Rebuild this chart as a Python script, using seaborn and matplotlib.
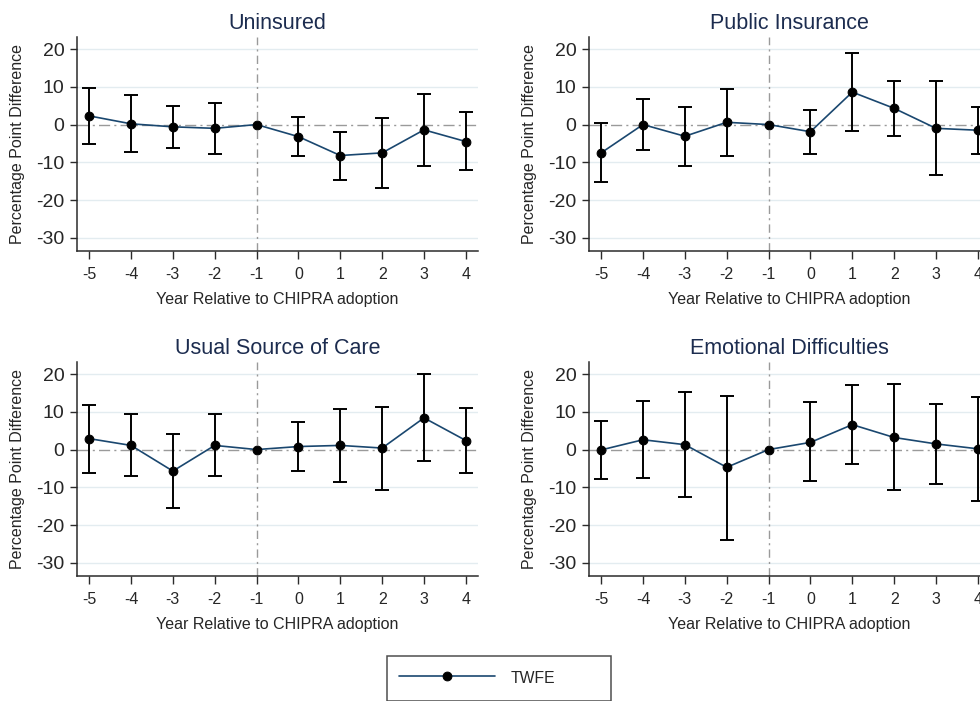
import numpy as np
import pandas as pd
import matplotlib
matplotlib.use("Agg")
import matplotlib.pyplot as plt
import seaborn as sns

# ---------------- data ----------------
years = [-5, -4, -3, -2, -1, 0, 1, 2, 3, 4]

uninsured_est = [2.3, 0.2, -0.6, -1.0, 0.0, -3.2, -8.2, -7.5, -1.4, -4.5]
uninsured_lo = [-5.2, -7.4, -6.2, -7.8, np.nan, -8.3, -14.8, -16.7, -10.9, -12.1]
uninsured_hi = [9.7, 7.8, 5.0, 5.8, np.nan, 2.1, -1.9, 1.8, 8.2, 3.2]

public_est = [-7.5, 0.0, -3.1, 0.6, 0.0, -1.9, 8.6, 4.3, -1.0, -1.5]
public_lo = [-15.3, -6.8, -10.9, -8.2, np.nan, -7.8, -1.8, -2.9, -13.4, -7.7]
public_hi = [0.3, 6.8, 4.7, 9.4, np.nan, 3.9, 19.0, 11.5, 11.5, 4.7]

usual_est = [2.9, 1.1, -5.7, 1.1, 0.0, 0.8, 1.1, 0.4, 8.4, 2.4]
usual_lo = [-6.2, -7.0, -15.5, -7.0, np.nan, -5.6, -8.7, -10.6, -2.9, -6.3]
usual_hi = [11.9, 9.3, 4.1, 9.3, np.nan, 7.3, 10.8, 11.4, 19.9, 10.9]

emotional_est = [-0.1, 2.6, 1.3, -4.7, 0.0, 1.9, 6.6, 3.2, 1.5, 0.2]
emotional_lo = [-7.9, -7.6, -12.5, -23.9, np.nan, -8.2, -3.9, -10.7, -9.0, -13.6]
emotional_hi = [7.7, 12.9, 15.3, 14.2, np.nan, 12.5, 17.2, 17.4, 12.1, 14.0]

titles = ["Uninsured", "Public Insurance", "Usual Source of Care", "Emotional Difficulties"]
yticks = [-30, -20, -10, 0, 10, 20]
xlabel = "Year Relative to CHIPRA adoption"
ylabel = "Percentage Point Difference"
series_label = "TWFE"

panels = [
    (uninsured_est, uninsured_lo, uninsured_hi),
    (public_est, public_lo, public_hi),
    (usual_est, usual_lo, usual_hi),
    (emotional_est, emotional_lo, emotional_hi),
]

# ---------------- style ----------------
sns.set_theme(style="white")
plt.rcParams["font.family"] = ["Liberation Sans", "DejaVu Sans"]

NAVY = "#1a476f"
TITLE_C = "#1c2c4f"
GRID_C = "#e3ecf0"
REF_C = "#9a9a9a"
SPINE_C = "#2b2b2b"

W, H = 980, 701
fig = plt.figure(figsize=(W / 100, H / 100), dpi=100)

# axes boxes in pixels: (left, top, right, bottom)
boxes = [
    (77, 37, 478, 251),
    (589, 37, 990, 251),
    (77, 362, 478, 576),
    (589, 362, 990, 576),
]

axes = []
for i, ((est, lo, hi), title, (l, t, r, b)) in enumerate(zip(panels, titles, boxes)):
    ax = fig.add_axes([l / W, 1 - b / H, (r - l) / W, (b - t) / H])
    axes.append(ax)
    df = pd.DataFrame({"year": years, "est": est, "lo": lo, "hi": hi})

    for yv in yticks:
        if yv != 0:
            ax.axhline(yv, color=GRID_C, lw=1.0, zorder=0)
    ax.axhline(0, color=REF_C, lw=1.0, ls=(0, (8, 3, 1.5, 3)), zorder=1)
    ax.axvline(-1, color=REF_C, lw=1.0, ls=(0, (6, 3, 1.5, 3)), zorder=1)

    ci = df.dropna()
    ax.errorbar(ci["year"], ci["est"],
                yerr=[ci["est"] - ci["lo"], ci["hi"] - ci["est"]],
                fmt="none", ecolor="black", elinewidth=1.4, capsize=4.7,
                capthick=1.4, zorder=2)

    sns.lineplot(data=df, x="year", y="est", ax=ax, color=NAVY, lw=1.2,
                 marker="o", markersize=6.3, markerfacecolor="black",
                 markeredgecolor="black", label=series_label, legend=False,
                 zorder=3)

    ax.set_xlim(-5.29, 4.29)
    ax.set_ylim(-33.5, 23.2)
    ax.set_xticks(years)
    ax.set_xticklabels([str(v) for v in years])
    ax.set_yticks(yticks)
    ax.set_yticklabels([str(v) for v in yticks])
    ax.tick_params(axis="y", labelsize=14, length=5, width=1.0, color=SPINE_C,
                   pad=4, direction="out", left=True)
    ax.tick_params(axis="x", labelsize=11.5, length=5.5, width=1.0, color=SPINE_C,
                   pad=6, direction="out", bottom=True)
    for s in ["top", "right"]:
        ax.spines[s].set_visible(False)
    for s in ["left", "bottom"]:
        ax.spines[s].set_color(SPINE_C)
        ax.spines[s].set_linewidth(1.1)
    ax.set_xlabel(xlabel, fontsize=11.5, labelpad=7)
    ax.set_ylabel(ylabel, fontsize=11.5, labelpad=8)
    ax.set_title(title, fontsize=15.5, color=TITLE_C, pad=6)
    ax.set_facecolor("white")

handles, labels = axes[0].get_legend_handles_labels()
leg = fig.legend(handles[:1], labels[:1], loc="upper left",
                 bbox_to_anchor=(387 / W, 1 - 656 / H, 224 / W, 0.0),
                 mode="expand", borderaxespad=0, fontsize=11.3,
                 handlelength=6.1, handletextpad=1.0, borderpad=0.75,
                 handleheight=1.7, fancybox=False, frameon=True)
leg.get_frame().set_edgecolor("#222222")
leg.get_frame().set_linewidth(1.1)

fig.savefig("out.png", dpi=100, facecolor="white")
